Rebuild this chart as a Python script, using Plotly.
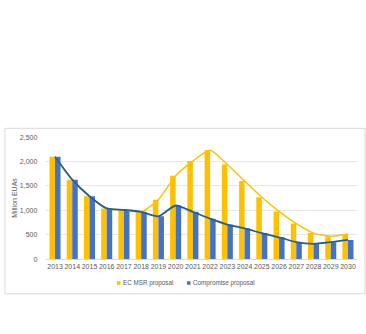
import plotly.graph_objects as go

years = [str(y) for y in range(2013, 2031)]
ec_msr = [2100, 1630, 1290, 1040, 1010, 970, 1220, 1710, 2010, 2230, 1940, 1600, 1270, 980, 730, 535, 470, 515]
compromise = [2100, 1630, 1290, 1040, 1010, 970, 880, 1100, 970, 830, 710, 630, 535, 450, 350, 315, 350, 395]
y_ticks = [0, 500, 1000, 1500, 2000, 2500]
y_tick_labels = ["0", "500", "1,000", "1,500", "2,000", "2,500"]
series_names = ["EC MSR proposal", "Compromise proposal"]

W, H = 366, 334
YELLOW = "#FFC000"
BLUE = "#4472C4"
BLUE_LINE = "#255E91"
GRAY = "#595959"
FONT = "Liberation Sans Narrow, Liberation Sans, sans-serif"

fig = go.Figure()
fig.add_trace(go.Bar(x=years, y=ec_msr, name=series_names[0], marker=dict(color=YELLOW, line_width=0), showlegend=False))
fig.add_trace(go.Bar(x=years, y=compromise, name=series_names[1], marker=dict(color=BLUE, line_width=0), showlegend=False))
fig.add_trace(go.Scatter(x=years, y=ec_msr, mode="lines", line=dict(color=YELLOW, width=1.5, shape="spline", smoothing=0.6),
                         showlegend=False, hoverinfo="skip"))
fig.add_trace(go.Scatter(x=years, y=compromise, mode="lines", line=dict(color=BLUE_LINE, width=1.8, shape="spline", smoothing=0.6),
                         showlegend=False, hoverinfo="skip"))

x0, x1 = 46.4, 356.6
ytop, ybot = 136, 260.7

# legend built from small square shapes + text annotations
leg_y = 285
leg_items = [(117, YELLOW), (187, BLUE)]
shapes = [dict(type="rect", xref="paper", yref="paper",
               x0=5 / W, x1=365 / W, y0=1 - 296 / H, y1=1 - 127 / H,
               line=dict(color="#D9D9D9", width=1), layer="below")]
annotations = [dict(text="Million EUAs", xref="paper", yref="paper",
                    x=15 / W, y=1 - 198 / H, textangle=-90, showarrow=False,
                    font=dict(size=7, color=GRAY), xanchor="center", yanchor="middle")]
for nm, (lx, col) in zip(series_names, leg_items):
    shapes.append(dict(type="rect", xref="paper", yref="paper",
                       x0=lx / W, x1=(lx + 3.5) / W, y0=1 - (leg_y + 1.8) / H, y1=1 - (leg_y - 1.8) / H,
                       fillcolor=col, line_width=0))
    annotations.append(dict(text=nm, xref="paper", yref="paper", x=(lx + 3.5) / W, y=1 - leg_y / H,
                            xanchor="left", yanchor="middle", showarrow=False,
                            font=dict(size=6.3, color=GRAY)))

fig.update_layout(
    width=W, height=H,
    margin=dict(l=0, r=0, t=0, b=0),
    paper_bgcolor="white", plot_bgcolor="white",
    barmode="group", bargap=0.36, bargroupgap=0,
    font=dict(family=FONT, size=7, color=GRAY),
    showlegend=False,
    xaxis=dict(domain=[x0 / W, x1 / W], type="category", showgrid=False,
               showline=True, linecolor="#D9D9D9", linewidth=1, ticks="",
               tickangle=0, tickfont=dict(size=7, color=GRAY), fixedrange=True),
    yaxis=dict(domain=[1 - ybot / H, 1 - ytop / H], range=[0, 2500],
               tickvals=y_ticks, ticktext=y_tick_labels, showgrid=True,
               gridcolor="#E6E6E6", gridwidth=1, zeroline=False, showline=False,
               ticks="", ticklabelstandoff=8, tickfont=dict(size=7, color=GRAY)),
    shapes=shapes,
    annotations=annotations,
)

fig.write_html("out.html")
